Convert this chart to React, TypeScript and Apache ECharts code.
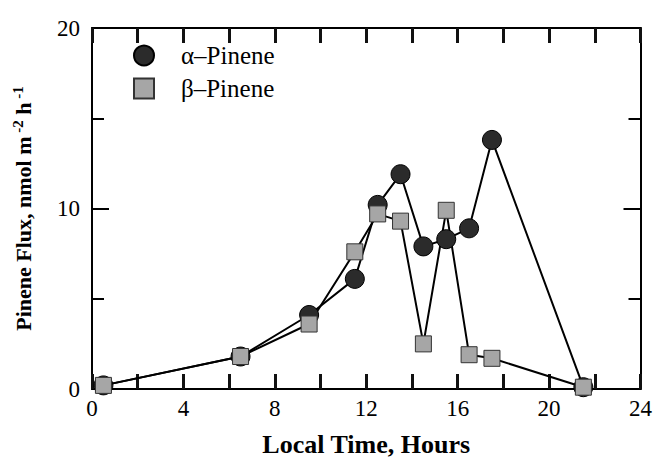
import React, { useEffect, useRef } from "react";
import * as echarts from "echarts";

const hours = [0.5, 6.5, 9.5, 11.5, 12.5, 13.5, 14.5, 15.5, 16.5, 17.5, 21.5];
const alphaPinene = [0.2, 1.8, 4.1, 6.1, 10.2, 11.9, 7.9, 8.3, 8.9, 13.8, 0.1];
const betaPinene = [0.2, 1.8, 3.6, 7.6, 9.7, 9.3, 2.5, 9.9, 1.9, 1.7, 0.1];
const seriesNames = ["\u03b1\u2013Pinene", "\u03b2\u2013Pinene"];

const FONT = "'Liberation Serif', 'Times New Roman', serif";

export default function App() {
  const ref = useRef<HTMLDivElement>(null);
  useEffect(() => {
    if (!ref.current) return;
    const chart = echarts.init(ref.current, null, { renderer: "svg" });
    const toPairs = (ys: number[]) => hours.map((h, i) => [h, ys[i]]);
    const axisLine = () => ({ show: true, onZero: false, lineStyle: { color: "#000", width: 2 } });
    const majorTick = () => ({ show: true, inside: true, length: 17, lineStyle: { color: "#000", width: 2 } });
    const minorTick = () => ({ show: true, splitNumber: 2, length: 12, lineStyle: { color: "#000", width: 2 } });
    const xTick = () => ({ show: true, inside: true, length: 15, lineStyle: { color: "#111", width: 3 } });
    chart.setOption({
      animation: false,
      backgroundColor: "#fff",
      textStyle: { fontFamily: FONT },
      grid: { left: 92, right: 13, top: 28, bottom: 68, containLabel: false },
      legend: {
        orient: "vertical",
        left: 128,
        top: 38,
        itemWidth: 20,
        itemHeight: 20,
        itemGap: 8,
        textStyle: { fontFamily: FONT, fontSize: 25, color: "#000", padding: [0, 0, 0, 22] },
        data: [
          { name: seriesNames[0], icon: "circle" },
          { name: seriesNames[1], icon: "path://M2,2L18,2L18,18L2,18Z" },
        ],
      },
      xAxis: [
        {
          type: "value",
          position: "bottom",
          min: 0,
          max: 24,
          interval: 2,
          axisLine: axisLine(),
          axisTick: xTick(),
          splitLine: { show: false },
          axisLabel: {
            fontFamily: FONT,
            fontSize: 23,
            color: "#000",
            margin: 8,
            formatter: (v: number) => (v % 4 === 0 ? String(v) : ""),
          },
          name: "Local Time, Hours",
          nameLocation: "middle",
          nameGap: 42,
          nameTextStyle: { fontFamily: FONT, fontSize: 26, fontWeight: "bold", color: "#000" },
        },
        {
          type: "value",
          position: "top",
          min: 0,
          max: 24,
          interval: 2,
          axisLine: axisLine(),
          axisTick: xTick(),
          splitLine: { show: false },
          axisLabel: { show: false },
        },
      ],
      yAxis: [
        {
          type: "value",
          position: "left",
          min: 0,
          max: 20,
          interval: 10,
          axisLine: axisLine(),
          axisTick: majorTick(),
          minorTick: minorTick(),
          splitLine: { show: false },
          minorSplitLine: { show: false },
          axisLabel: { fontFamily: FONT, fontSize: 23, color: "#000", margin: 12 },
          name: "{b|Pinene Flux, nmol m}{s| -2}{b| h}{s| -1}",
          nameLocation: "middle",
          nameRotate: 90,
          nameGap: 55,
          nameTextStyle: {
            fontFamily: FONT,
            fontSize: 22,
            fontWeight: "bold",
            color: "#000",
            rich: {
              b: { fontFamily: FONT, fontSize: 22, fontWeight: "bold", color: "#000", lineHeight: 27 },
              s: { fontFamily: FONT, fontSize: 15, fontWeight: "bold", color: "#000", verticalAlign: "top", lineHeight: 27 },
            },
          },
        },
        {
          type: "value",
          position: "right",
          min: 0,
          max: 20,
          interval: 10,
          axisLine: axisLine(),
          axisTick: majorTick(),
          minorTick: minorTick(),
          splitLine: { show: false },
          minorSplitLine: { show: false },
          axisLabel: { show: false },
        },
      ],
      series: [
        {
          name: seriesNames[0],
          type: "line",
          data: toPairs(alphaPinene),
          symbol: "circle",
          symbolSize: 19,
          itemStyle: { color: "#2b2b2b", borderColor: "#000", borderWidth: 1 },
          lineStyle: { color: "#000", width: 2 },
        },
        {
          name: seriesNames[1],
          type: "line",
          data: toPairs(betaPinene),
          symbol: "rect",
          symbolSize: 16,
          itemStyle: { color: "#a6a6a6", borderColor: "#333", borderWidth: 1 },
          lineStyle: { color: "#000", width: 2 },
        },
      ],
    });
    return () => chart.dispose();
  }, []);
  return (
    <div
      ref={ref}
      style={{ position: "fixed", left: 0, top: 0, width: 655, height: 462, background: "#fff" }}
    />
  );
}
